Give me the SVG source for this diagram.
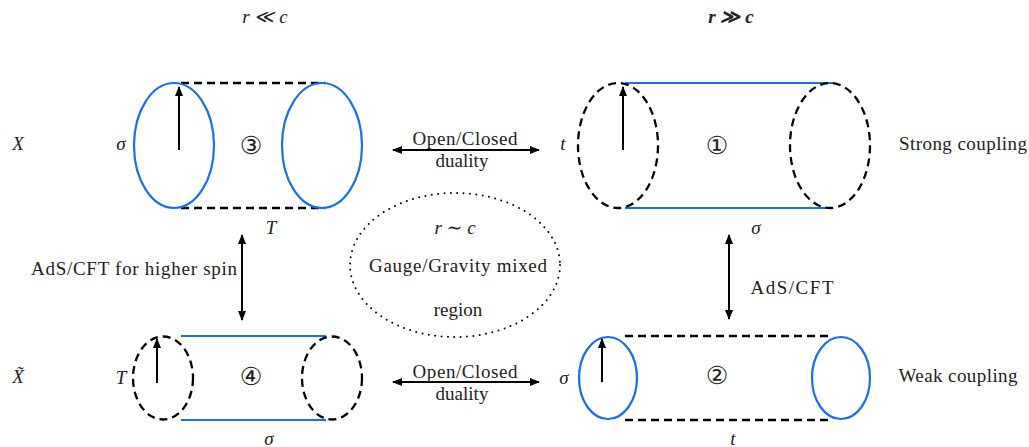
<svg xmlns="http://www.w3.org/2000/svg" width="1029" height="447" viewBox="0 0 1029 447">
<style>
.bg{fill:#fff}
.blue{fill:none;stroke:#1a6ee6;stroke-width:2.2}
.dash{fill:none;stroke:#000;stroke-width:2.3;stroke-dasharray:8 5}
.dot{fill:none;stroke:#000;stroke-width:2;stroke-dasharray:0 6.4;stroke-linecap:round}
.arr{fill:none;stroke:#000;stroke-width:2}
.t{font-family:"Liberation Serif","DejaVu Serif",serif;font-size:19px;fill:#222;text-anchor:middle}
.m{font-family:"Liberation Serif","DejaVu Serif",serif;font-size:19px;font-style:italic;fill:#222;text-anchor:middle}
.c{font-family:"DejaVu Sans",sans-serif;font-size:25px;fill:#222;text-anchor:middle}
</style>
<defs>
<marker id="ah" viewBox="0 0 10 8" refX="9" refY="4" markerWidth="10" markerHeight="8" markerUnits="userSpaceOnUse" orient="auto-start-reverse">
<path d="M0,0 L10,4 L0,8 Z" fill="#000"/>
</marker>
</defs>
<rect class="bg" x="0" y="0" width="1029" height="447"/>

<text class="m" x="265" y="23">r ≪ c</text>
<text class="m" x="731" y="23" font-weight="bold">r ≫ c</text>

<text class="m" x="18" y="150">X</text>
<text class="m" x="18" y="383">X̃</text>
<text class="t" x="963" y="150" textLength="128" lengthAdjust="spacing">Strong coupling</text>
<text class="t" x="958" y="382" textLength="119" lengthAdjust="spacing">Weak coupling</text>

<g id="cyl3">
<line class="dash" x1="181" y1="83" x2="325" y2="83"/>
<line class="dash" x1="181" y1="208" x2="325" y2="208"/>
<ellipse class="blue" cx="174" cy="145.5" rx="40" ry="62.5"/>
<ellipse class="blue" cx="322" cy="145.5" rx="40" ry="62.5"/>
<line class="arr" x1="179" y1="150" x2="179" y2="87" marker-end="url(#ah)"/>
<text class="m" x="121" y="150">σ</text>
<text class="c" x="251" y="154">③</text>
<text class="m" x="271" y="234">T</text>
</g>

<g id="cyl1">
<line class="blue" x1="625" y1="83" x2="833" y2="83"/>
<line class="blue" x1="625" y1="208" x2="833" y2="208"/>
<ellipse class="dash" cx="618" cy="145.5" rx="40" ry="62.5"/>
<ellipse class="dash" cx="830" cy="145.5" rx="40" ry="62.5"/>
<line class="arr" x1="623" y1="150" x2="623" y2="87" marker-end="url(#ah)"/>
<text class="m" x="563" y="150">t</text>
<text class="c" x="717" y="154">①</text>
<text class="m" x="756" y="234">σ</text>
</g>

<g id="cyl4">
<line class="blue" x1="181" y1="336" x2="326" y2="336"/>
<line class="blue" x1="181" y1="420" x2="326" y2="420"/>
<ellipse class="dash" cx="163" cy="378" rx="30" ry="41.5"/>
<ellipse class="dash" cx="332" cy="378" rx="30" ry="41.5"/>
<line class="arr" x1="157" y1="383" x2="157" y2="339" marker-end="url(#ah)"/>
<text class="m" x="121" y="384">T</text>
<text class="c" x="251" y="385">④</text>
<text class="m" x="269" y="445">σ</text>
</g>

<g id="cyl2">
<line class="dash" x1="625" y1="336" x2="833" y2="336"/>
<line class="dash" x1="625" y1="420" x2="833" y2="420"/>
<ellipse class="blue" cx="608" cy="378" rx="29" ry="41"/>
<ellipse class="blue" cx="841" cy="378" rx="29" ry="41"/>
<line class="arr" x1="602" y1="382" x2="602" y2="339" marker-end="url(#ah)"/>
<text class="m" x="564" y="384">σ</text>
<text class="c" x="717" y="384">②</text>
<text class="m" x="733" y="445">t</text>
</g>

<g id="mixed">
<ellipse class="dot" cx="455" cy="265" rx="105" ry="72"/>
<text class="m" x="455" y="234">r ∼ c</text>
<text class="t" x="458" y="272" textLength="178" lengthAdjust="spacing">Gauge/Gravity mixed</text>
<text class="t" x="458" y="316">region</text>
</g>

<g id="connectors">
<line class="arr" x1="393" y1="150" x2="539" y2="150" marker-start="url(#ah)" marker-end="url(#ah)"/>
<text class="t" x="465" y="145" textLength="105" lengthAdjust="spacing">Open/Closed</text>
<text class="t" x="462" y="167">duality</text>
<line class="arr" x1="393" y1="382" x2="539" y2="382" marker-start="url(#ah)" marker-end="url(#ah)"/>
<text class="t" x="465" y="378" textLength="105" lengthAdjust="spacing">Open/Closed</text>
<text class="t" x="462" y="400">duality</text>
<line class="arr" x1="242" y1="235" x2="242" y2="320" marker-start="url(#ah)" marker-end="url(#ah)"/>
<text class="t" x="134" y="275" textLength="206" lengthAdjust="spacing">AdS/CFT for higher spin</text>
<line class="arr" x1="729" y1="235" x2="729" y2="319" marker-start="url(#ah)" marker-end="url(#ah)"/>
<text class="t" x="792" y="294" textLength="83" lengthAdjust="spacing">AdS/CFT</text>
</g>
</svg>
